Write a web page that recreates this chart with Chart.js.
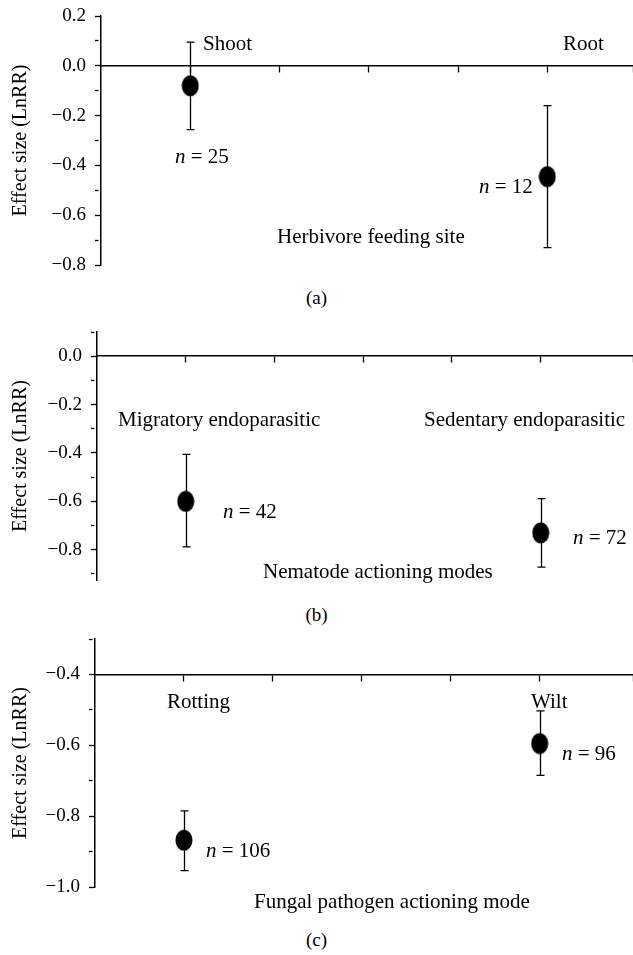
<!DOCTYPE html>
<html>
<head>
<meta charset="utf-8">
<script src="https://cdn.jsdelivr.net/npm/chart.js@4"></script>
<style>
  body { margin: 0; background: #fff; }
  #wrap { position: relative; width: 633px; height: 955px; background: #fff; }
  .panel { position: absolute; left: 0; }
  .cap { position: absolute; left: 0; width: 633px; text-align: center;
         font: 19px "Liberation Serif", serif; line-height: 20px; color: #000; }
</style>
</head>
<body>
<div id="wrap">
  <canvas id="chartA" class="panel" style="top:0px" width="633" height="285"></canvas>
  <div class="cap" style="top:288px">(a)</div>
  <canvas id="chartB" class="panel" style="top:300px" width="633" height="300"></canvas>
  <div class="cap" style="top:605px">(b)</div>
  <canvas id="chartC" class="panel" style="top:620px" width="633" height="300"></canvas>
  <div class="cap" style="top:930px">(c)</div>
</div>
<script>
// (a) herbivore feeding site
var herbSites = ["Shoot", "Root"];
var herbPos = [1, 5];
var herbMean = [-0.08, -0.445];
var herbLow = [-0.256, -0.73];
var herbHigh = [0.095, -0.16];
var herbN = [25, 12];
var herbRange = [-0.8, 0.2];

// (b) nematode actioning modes
var nemaModes = ["Migratory endoparasitic", "Sedentary endoparasitic"];
var nemaPos = [1, 5];
var nemaMean = [-0.60, -0.73];
var nemaLow = [-0.788, -0.872];
var nemaHigh = [-0.406, -0.589];
var nemaN = [42, 72];
var nemaRange = [-0.925, 0.1];

// (c) fungal pathogen actioning mode
var fungModes = ["Rotting", "Wilt"];
var fungPos = [1, 5];
var fungMean = [-0.868, -0.595];
var fungLow = [-0.954, -0.685];
var fungHigh = [-0.785, -0.503];
var fungN = [106, 96];
var fungRange = [-1.0, -0.3];

var SERIF = '"Liberation Serif", "Times New Roman", serif';

// filled ellipse used as the point marker
function ellipseImg(w, h) {
    var c = document.createElement("canvas");
    c.width = w; c.height = h;
    var g = c.getContext("2d");
    g.fillStyle = "#000";
    g.beginPath();
    g.ellipse(w / 2, h / 2, w / 2 - 0.5, h / 2 - 0.5, 0, 0, Math.PI * 2);
    g.fill();
    return c;
}
var marker = ellipseImg(18, 22);

// ---------------------------
// error bars (drawn under the points)
// ---------------------------
var errorBars = {
    id: "errorBars",
    beforeDatasetsDraw: function(chart, args, opts) {
        var ctx = chart.ctx, x = chart.scales.x, y = chart.scales.y;
        ctx.save();
        ctx.strokeStyle = "#000";
        ctx.lineWidth = 1.3;
        for (var i = 0; i < opts.pos.length; i++) {
            var px = Math.round(x.getPixelForValue(opts.pos[i])) + 0.5;
            var yl = y.getPixelForValue(opts.low[i]);
            var yh = y.getPixelForValue(opts.high[i]);
            ctx.beginPath();
            ctx.moveTo(px, yh); ctx.lineTo(px, yl);
            ctx.moveTo(px - 4, yh); ctx.lineTo(px + 4, yh);
            ctx.moveTo(px - 4, yl); ctx.lineTo(px + 4, yl);
            ctx.stroke();
        }
        ctx.restore();
    }
};

// ---------------------------
// text notes inside the plot
// ---------------------------
var notes = {
    id: "notes",
    afterDraw: function(chart, args, opts) {
        var ctx = chart.ctx;
        ctx.save();
        ctx.fillStyle = "#000";
        ctx.textBaseline = "alphabetic";
        ctx.textAlign = "left";
        opts.items.forEach(function(it) {
            var x = it.x;
            if (it.n !== undefined) {
                ctx.font = "italic 21px " + SERIF;
                ctx.fillText("n", x, it.y);
                x += ctx.measureText("n").width;
                ctx.font = "21px " + SERIF;
                ctx.fillText(" = " + it.n, x, it.y);
            } else {
                ctx.font = "21px " + SERIF;
                ctx.fillText(it.text, x, it.y);
            }
        });
        ctx.restore();
    }
};

function tickLabel(v) {
    var k = Math.round(v * 10);
    if (k % 2) return "";
    var s = Math.abs(k / 10).toFixed(1);
    return k < 0 ? "\u2212" + s : s;
}

function makePanel(id, o) {
    var pts = [];
    for (var i = 0; i < o.pos.length; i++) pts.push({x: o.pos[i], y: o.mean[i]});

    return new Chart(document.getElementById(id), {
        type: "scatter",
        data: {
            datasets: [{
                data: pts,
                pointStyle: marker,
                pointRadius: 10,
                showLine: false,
                clip: false
            }]
        },
        options: {
            responsive: false,
            animation: false,
            events: [],
            layout: {
                autoPadding: false,
                padding: { top: o.padTop, bottom: o.padBottom, left: 0, right: 0 }
            },
            scales: {
                x: {
                    type: "linear",
                    min: 0,
                    max: o.xMax,
                    position: { y: o.lineAt },
                    ticks: { stepSize: 1, display: false },
                    grid: {
                        drawOnChartArea: false,
                        tickLength: 6,
                        tickWidth: 1.3,
                        tickColor: function(c) { return c.tick && c.tick.value === 0 ? "rgba(0,0,0,0)" : "#000"; }
                    },
                    border: { color: "#000", width: 1.5 }
                },
                y: {
                    type: "linear",
                    position: "left",
                    min: o.range[0],
                    max: o.range[1],
                    afterFit: function(s) {
                        s.width = o.left;
                        s.paddingTop = 0;
                        s.paddingBottom = 0;
                    },
                    ticks: {
                        stepSize: 0.1,
                        includeBounds: false,
                        autoSkip: false,
                        padding: 9,
                        color: "#000",
                        font: { family: SERIF, size: 19 },
                        callback: tickLabel
                    },
                    grid: {
                        drawOnChartArea: false,
                        tickLength: 6,
                        tickWidth: 1.3,
                        tickColor: "#000",
                        tickBorderDash: function(c) {
                            return c.tick && Math.round(c.tick.value * 10) % 2 ? [3.5, 20] : [];
                        }
                    },
                    border: { color: "#000", width: 1.5 },
                    title: {
                        display: true,
                        text: "Effect size (LnRR)",
                        color: "#000",
                        font: { family: SERIF, size: 20 },
                        padding: { top: 9, bottom: 0 }
                    }
                }
            },
            plugins: {
                legend: { display: false },
                tooltip: { enabled: false },
                errorBars: { pos: o.pos, low: o.low, high: o.high },
                notes: { items: o.notes }
            }
        },
        plugins: [errorBars, notes]
    });
}

makePanel("chartA", {
    pos: herbPos, mean: herbMean, low: herbLow, high: herbHigh, range: herbRange,
    lineAt: 0, xMax: 5.96, left: 101, padTop: 16, padBottom: 20,
    notes: [
        {text: herbSites[0], x: 203, y: 50},
        {text: herbSites[1], x: 563, y: 50},
        {n: herbN[0], x: 175, y: 163},
        {n: herbN[1], x: 479, y: 193},
        {text: "Herbivore feeding site", x: 277, y: 243}
    ]
});

makePanel("chartB", {
    pos: nemaPos, mean: nemaMean, low: nemaLow, high: nemaHigh, range: nemaRange,
    lineAt: 0, xMax: 6.04, left: 97, padTop: 32, padBottom: 20,
    notes: [
        {text: nemaModes[0], x: 118, y: 126},
        {text: nemaModes[1], x: 424, y: 126},
        {n: nemaN[0], x: 223, y: 218},
        {n: nemaN[1], x: 573, y: 244},
        {text: "Nematode actioning modes", x: 263, y: 278}
    ]
});

makePanel("chartC", {
    pos: fungPos, mean: fungMean, low: fungLow, high: fungHigh, range: fungRange,
    lineAt: -0.4, xMax: 6.05, left: 95, padTop: 19, padBottom: 33,
    notes: [
        {text: fungModes[0], x: 167, y: 88},
        {text: fungModes[1], x: 531, y: 88},
        {n: fungN[0], x: 206, y: 237},
        {n: fungN[1], x: 562, y: 140},
        {text: "Fungal pathogen actioning mode", x: 254, y: 288}
    ]
});
</script>
</body>
</html>
